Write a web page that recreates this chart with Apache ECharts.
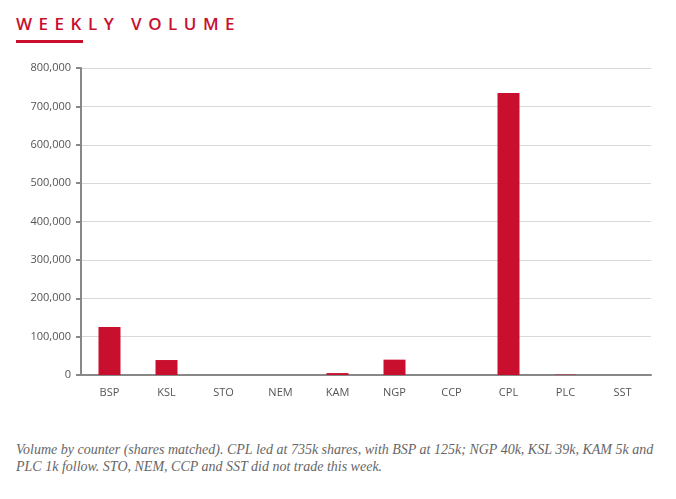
<!DOCTYPE html>
<html><head><meta charset="utf-8">
<script src="https://cdn.jsdelivr.net/npm/echarts@6/dist/echarts.min.js"></script>
<style>
body{margin:0;background:#fff;}
#title{position:absolute;left:16px;top:12px;font:600 17px "Open Sans",sans-serif;letter-spacing:6.5px;color:#c8102e;}
#bar{position:absolute;left:16px;top:40px;width:67px;height:3px;background:#c8102e;}
#chart{position:absolute;left:0;top:50px;width:676px;height:360px;}
#cap{position:absolute;left:16px;top:441px;width:650px;font:italic 14px "Liberation Serif",serif;color:#666;line-height:17px;}
</style></head>
<body>
<div id="title">WEEKLY VOLUME</div><div id="bar"></div>
<div id="chart"></div>
<div id="cap">Volume by counter (shares matched). CPL led at 735k shares, with BSP at 125k; NGP 40k, KSL 39k, KAM 5k and PLC 1k follow. STO, NEM, CCP and SST did not trade this week.</div>
<script>
const counters = ['BSP','KSL','STO','NEM','KAM','NGP','CCP','CPL','PLC','SST'];
const volumes = [125000, 39000, 0, 0, 5000, 40000, 0, 735000, 1000, 0];

const chart = echarts.init(document.getElementById('chart'));
chart.setOption({
  animation: false,
  grid: {left: 81, right: 25, top: 18, bottom: 35},
  xAxis: {
    type: 'category', data: counters,
    axisLine: {lineStyle: {color: '#888', width: 2}},
    axisTick: {length: 5, lineStyle: {color: '#888', width: 2}},
    axisLabel: {color: '#555', fontFamily: 'Open Sans', fontSize: 11, margin: 12}
  },
  yAxis: {
    type: 'value', min: 0, max: 800000, interval: 100000,
    axisLine: {show: true, lineStyle: {color: '#888', width: 2}},
    axisTick: {show: true, length: 5, lineStyle: {color: '#888', width: 2}},
    axisLabel: {color: '#555', fontFamily: 'Open Sans', fontSize: 11, margin: 10},
    splitLine: {lineStyle: {color: '#d9d9d9'}}
  },
  series: [{
    type: 'bar', data: volumes, barWidth: 22,
    itemStyle: {color: '#c8102e'}
  }]
});
</script>
</body></html>
